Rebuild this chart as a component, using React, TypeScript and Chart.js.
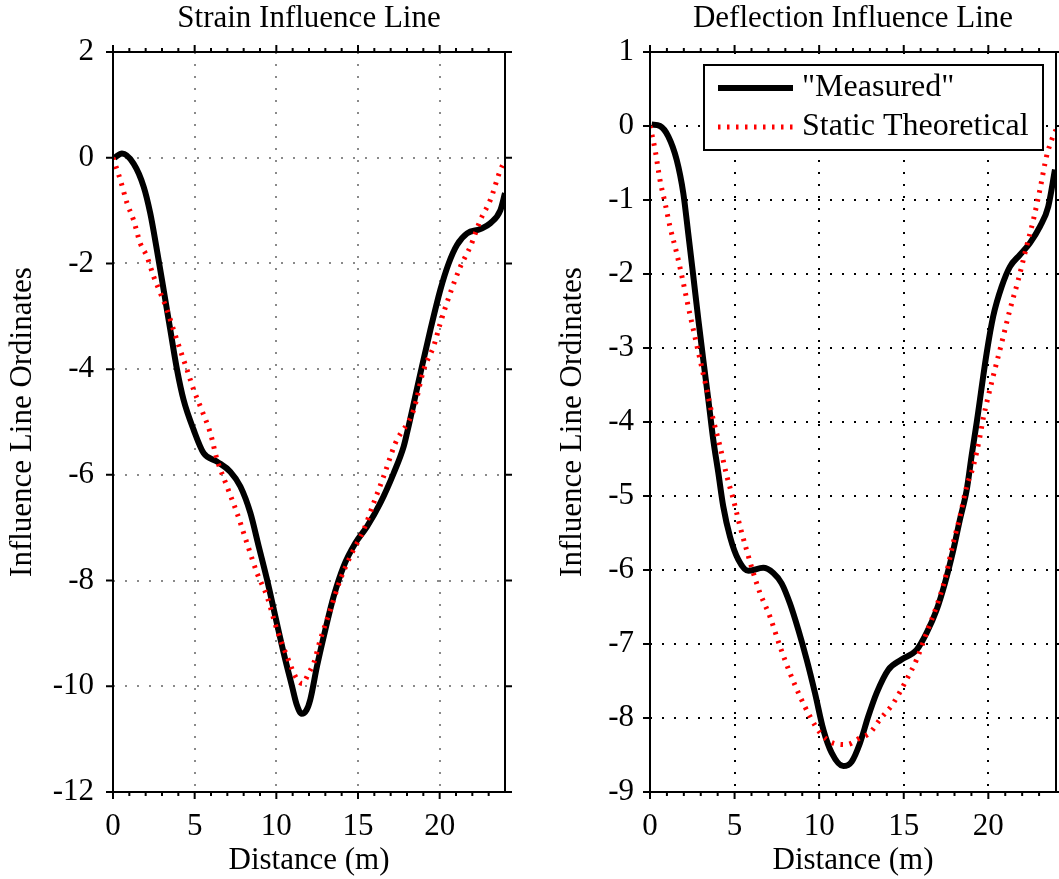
import React, { useEffect, useRef } from 'react';
import { Chart, registerables } from 'chart.js';

Chart.register(...registerables);

const FONT = '"Liberation Serif", "Times New Roman", Times, serif';

// ---------- Data ----------
const seriesLabels = ['"Measured"', 'Static Theoretical'];
const chartTitles = ['Strain Influence Line', 'Deflection Influence Line'];
const xAxisTitle = 'Distance (m)';
const yAxisTitle = 'Influence Line Ordinates';

const xMajorTicks = [0, 5, 10, 15, 20];
const xMinorTicks = [1, 2, 3, 4, 6, 7, 8, 9, 11, 12, 13, 14, 16, 17, 18, 19, 21, 22, 23];
const strainYTicks = [2, 0, -2, -4, -6, -8, -10, -12];
const deflYTicks = [1, 0, -1, -2, -3, -4, -5, -6, -7, -8, -9];

const strainMeasuredX = [0.1, 0.55, 1.26, 1.88, 2.28, 2.69, 3.1, 3.51, 3.92, 4.32, 4.94, 5.55, 6.37, 7.18, 7.8, 8.41, 8.92, 9.43, 9.94, 10.45, 10.96, 11.25, 11.55, 11.85, 12.08, 12.49, 13.0, 13.51, 14.12, 14.84, 15.55, 16.37, 17.18, 17.8, 18.0, 18.82, 19.43, 20.04, 20.55, 21.06, 21.68, 22.49, 23.1, 23.72, 24.0];
const strainMeasuredY = [0.0, 0.08, -0.11, -0.55, -1.05, -1.75, -2.5, -3.26, -4.01, -4.58, -5.15, -5.59, -5.75, -5.94, -6.22, -6.72, -7.35, -7.98, -8.68, -9.37, -10.0, -10.35, -10.52, -10.45, -10.25, -9.62, -8.93, -8.3, -7.73, -7.29, -6.98, -6.53, -5.97, -5.46, -5.21, -4.08, -3.26, -2.5, -2.0, -1.65, -1.43, -1.35, -1.24, -0.99, -0.67];

const strainTheoX = [0, 0.45, 0.86, 1.26, 1.67, 2.08, 2.49, 2.9, 3.31, 3.71, 4.12, 4.53, 4.94, 5.35, 5.96, 6.37, 6.98, 7.59, 8.2, 8.82, 9.43, 10.04, 10.65, 11.27, 11.6, 11.98, 12.29, 12.69, 13.31, 13.92, 14.53, 15.35, 15.96, 16.57, 17.29, 18.41, 19.02, 19.63, 20.04, 20.65, 21.27, 21.88, 22.49, 23.1, 23.72, 24.0];
const strainTheoY = [0, -0.42, -0.86, -1.18, -1.62, -1.87, -2.25, -2.56, -2.88, -3.26, -3.64, -4.01, -4.39, -4.71, -5.21, -5.71, -6.22, -6.72, -7.29, -7.86, -8.3, -8.93, -9.43, -9.87, -9.95, -9.75, -9.56, -9.12, -8.55, -7.98, -7.54, -7.04, -6.53, -6.03, -5.4, -4.77, -4.01, -3.57, -3.13, -2.56, -2.06, -1.68, -1.18, -0.8, -0.23, -0.05];

const deflMeasuredX = [0.1, 0.59, 1.08, 1.58, 1.97, 2.26, 2.56, 2.86, 3.15, 3.45, 3.74, 4.04, 4.33, 4.73, 5.22, 5.81, 6.69, 7.29, 7.78, 8.27, 8.77, 9.26, 9.75, 10.25, 10.74, 11.43, 11.92, 12.41, 12.9, 13.4, 14.08, 14.87, 15.76, 16.35, 16.94, 17.43, 17.93, 18.32, 18.72, 19.01, 19.31, 19.9, 20.29, 20.79, 21.28, 21.87, 22.46, 23.05, 23.54, 23.94];
const deflMeasuredY = [0.02, 0.0, -0.14, -0.46, -0.91, -1.45, -2.03, -2.62, -3.16, -3.7, -4.24, -4.69, -5.14, -5.55, -5.86, -6.01, -5.97, -6.04, -6.18, -6.45, -6.81, -7.21, -7.66, -8.16, -8.47, -8.65, -8.59, -8.34, -7.98, -7.66, -7.35, -7.21, -7.08, -6.85, -6.54, -6.18, -5.73, -5.32, -4.92, -4.46, -4.01, -3.07, -2.57, -2.17, -1.9, -1.74, -1.58, -1.36, -1.09, -0.59];

const deflTheoX = [0, 0.3, 0.59, 0.89, 1.18, 1.58, 1.97, 2.26, 2.56, 2.96, 3.35, 3.74, 4.14, 4.53, 4.93, 5.32, 5.71, 6.11, 6.5, 7.09, 7.68, 8.27, 8.87, 9.46, 10.05, 10.83, 11.62, 12.41, 13.0, 13.59, 14.38, 15.17, 15.76, 16.35, 16.94, 17.43, 17.93, 18.32, 18.72, 19.11, 19.5, 19.7, 20.29, 20.79, 21.28, 21.77, 22.26, 22.66, 23.05, 23.44, 23.74, 24.0];
const deflTheoY = [0, -0.32, -0.73, -1.04, -1.36, -1.72, -2.12, -2.44, -2.75, -3.16, -3.56, -3.97, -4.33, -4.72, -5.05, -5.41, -5.73, -6.04, -6.31, -6.63, -7.03, -7.39, -7.71, -7.98, -8.2, -8.34, -8.36, -8.27, -8.2, -8.02, -7.8, -7.48, -7.21, -6.85, -6.49, -6.13, -5.63, -5.28, -4.87, -4.6, -4.2, -3.95, -3.38, -2.93, -2.48, -2.08, -1.63, -1.27, -0.86, -0.41, -0.19, -0.05];

const toPoints = (xs: number[], ys: number[]) => xs.map((x, i) => ({ x, y: ys[i] }));

// ---------- Plugins ----------
function makeFramePlugin(yTicks: number[]) {
  return {
    id: 'frameTicks',
    afterDatasetsDraw(chart: any) {
      const { ctx, chartArea: a, scales } = chart;
      const xs = scales.x;
      const ys = scales.y;
      ctx.save();
      ctx.setLineDash([]);
      ctx.strokeStyle = '#000';
      ctx.lineWidth = 2;
      ctx.beginPath();
      for (const v of xMajorTicks) {
        const p = xs.getPixelForValue(v);
        ctx.moveTo(p, a.bottom);
        ctx.lineTo(p, a.bottom + 7);
        ctx.moveTo(p, a.top);
        ctx.lineTo(p, a.top - 7);
      }
      for (const v of xMinorTicks) {
        const p = xs.getPixelForValue(v);
        ctx.moveTo(p, a.bottom);
        ctx.lineTo(p, a.bottom + 4);
        ctx.moveTo(p, a.top);
        ctx.lineTo(p, a.top - 4);
      }
      for (const v of yTicks) {
        const p = ys.getPixelForValue(v);
        ctx.moveTo(a.left, p);
        ctx.lineTo(a.left - 7, p);
        ctx.moveTo(a.right, p);
        ctx.lineTo(a.right + 7, p);
      }
      ctx.stroke();
      ctx.strokeRect(a.left, a.top, a.right - a.left, a.bottom - a.top);
      ctx.restore();
    },
  };
}

const boxLegendPlugin = {
  id: 'boxLegend',
  afterDraw(chart: any) {
    const { ctx, chartArea: a } = chart;
    const right = a.right - 13;
    const left = right - 339;
    const top = a.top + 13;
    const height = 85;
    ctx.save();
    ctx.fillStyle = '#fff';
    ctx.fillRect(left, top, right - left, height);
    ctx.strokeStyle = '#000';
    ctx.lineWidth = 2;
    ctx.setLineDash([]);
    ctx.strokeRect(left, top, right - left, height);
    chart.data.datasets.forEach((ds: any, i: number) => {
      const y = top + 23 + i * 39;
      ctx.beginPath();
      ctx.strokeStyle = ds.borderColor;
      ctx.lineWidth = ds.borderWidth;
      ctx.setLineDash(ds.borderDash || []);
      ctx.moveTo(left + 14, y);
      ctx.lineTo(left + 89, y);
      ctx.stroke();
      ctx.setLineDash([]);
      ctx.fillStyle = '#000';
      ctx.font = `32px ${FONT}`;
      ctx.textBaseline = 'middle';
      ctx.textAlign = 'left';
      ctx.fillText(ds.label, left + 98, y);
    });
    ctx.restore();
  },
};

// ---------- Chart builder ----------
function buildConfig(opts: {
  title: string;
  measured: { x: number; y: number }[];
  theo: { x: number; y: number }[];
  yTicks: number[];
  yMin: number;
  yMax: number;
  yWidth: number;
  padRight: number;
  yTitlePad: number;
  yLabelPad: number;
  gridColor: string;
  legend: boolean;
}) {
  const plugins: any[] = [makeFramePlugin(opts.yTicks)];
  if (opts.legend) plugins.push(boxLegendPlugin);
  return {
    type: 'line' as const,
    data: {
      datasets: [
        {
          label: seriesLabels[0],
          data: opts.measured,
          borderColor: '#000000',
          borderWidth: 6,
          pointRadius: 0,
          cubicInterpolationMode: 'monotone' as const,
          fill: false,
          order: 1,
        },
        {
          label: seriesLabels[1],
          data: opts.theo,
          borderColor: '#ff0000',
          borderWidth: 5,
          borderDash: [2.5, 6.5],
          pointRadius: 0,
          cubicInterpolationMode: 'monotone' as const,
          fill: false,
          order: 0,
        },
      ],
    },
    options: {
      responsive: false,
      animation: false as const,
      devicePixelRatio: 1,
      layout: { padding: { left: 0, right: opts.padRight, top: 0, bottom: 0 } },
      plugins: {
        legend: { display: false },
        tooltip: { enabled: false },
        title: {
          display: true,
          text: opts.title,
          color: '#000',
          fullSize: false,
          font: { family: FONT, size: 31, weight: 'normal' as const, lineHeight: 1.0 },
          padding: { top: 3, bottom: 18 },
        },
      },
      scales: {
        x: {
          type: 'linear' as const,
          min: 0,
          max: 24,
          afterFit: (s: any) => {
            s.height = 87;
          },
          afterBuildTicks: (s: any) => {
            s.ticks = xMajorTicks.map((v) => ({ value: v }));
          },
          ticks: {
            color: '#000',
            font: { family: FONT, size: 31, lineHeight: 1.2 },
            padding: 16,
            maxRotation: 0,
            autoSkip: false,
            callback: (v: any) => String(v),
          },
          grid: { color: opts.gridColor, lineWidth: 2, drawTicks: false },
          border: { display: false, dash: [2, 10] },
          title: {
            display: true,
            text: xAxisTitle,
            color: '#000',
            font: { family: FONT, size: 31, lineHeight: 1.2 },
            padding: { top: 0, bottom: 0 },
          },
        },
        y: {
          type: 'linear' as const,
          min: opts.yMin,
          max: opts.yMax,
          afterFit: (s: any) => {
            s.width = opts.yWidth;
          },
          afterBuildTicks: (s: any) => {
            s.ticks = opts.yTicks.map((v) => ({ value: v }));
          },
          ticks: {
            color: '#000',
            font: { family: FONT, size: 31, lineHeight: 1.2 },
            padding: opts.yLabelPad,
            autoSkip: false,
            callback: (v: any) => String(v),
          },
          grid: { color: opts.gridColor, lineWidth: 2, drawTicks: false },
          border: { display: false, dash: [2, 10] },
          title: {
            display: true,
            text: yAxisTitle,
            color: '#000',
            font: { family: FONT, size: 31, lineHeight: 1.2 },
            padding: { top: opts.yTitlePad, bottom: 0 },
          },
        },
      },
    },
    plugins,
  };
}

function ChartCanvas(props: { width: number; height: number; config: any }) {
  const ref = useRef<HTMLCanvasElement | null>(null);
  useEffect(() => {
    if (!ref.current) return;
    const chart = new Chart(ref.current, props.config);
    return () => chart.destroy();
  }, []);
  return (
    <canvas
      ref={ref}
      width={props.width}
      height={props.height}
      style={{ display: 'block', width: props.width, height: props.height }}
    />
  );
}

export default function App() {
  const leftConfig = buildConfig({
    title: chartTitles[0],
    measured: toPoints(strainMeasuredX, strainMeasuredY),
    theo: toPoints(strainTheoX, strainTheoY),
    yTicks: strainYTicks,
    yMin: -12,
    yMax: 2,
    yWidth: 113,
    padRight: 35,
    yTitlePad: 4,
    yLabelPad: 19,
    gridColor: '#8a8a8a',
    legend: false,
  });
  const rightConfig = buildConfig({
    title: chartTitles[1],
    measured: toPoints(deflMeasuredX, deflMeasuredY),
    theo: toPoints(deflTheoX, deflTheoY),
    yTicks: deflYTicks,
    yMin: -9,
    yMax: 1,
    yWidth: 110,
    padRight: 3,
    yTitlePad: 14,
    yLabelPad: 16,
    gridColor: '#000000',
    legend: true,
  });
  return (
    <div
      style={{
        position: 'absolute',
        left: 0,
        top: 0,
        width: 1059,
        height: 879,
        display: 'flex',
        flexDirection: 'row',
        background: '#fff',
      }}
    >
      <ChartCanvas width={540} height={879} config={leftConfig} />
      <ChartCanvas width={519} height={879} config={rightConfig} />
    </div>
  );
}
